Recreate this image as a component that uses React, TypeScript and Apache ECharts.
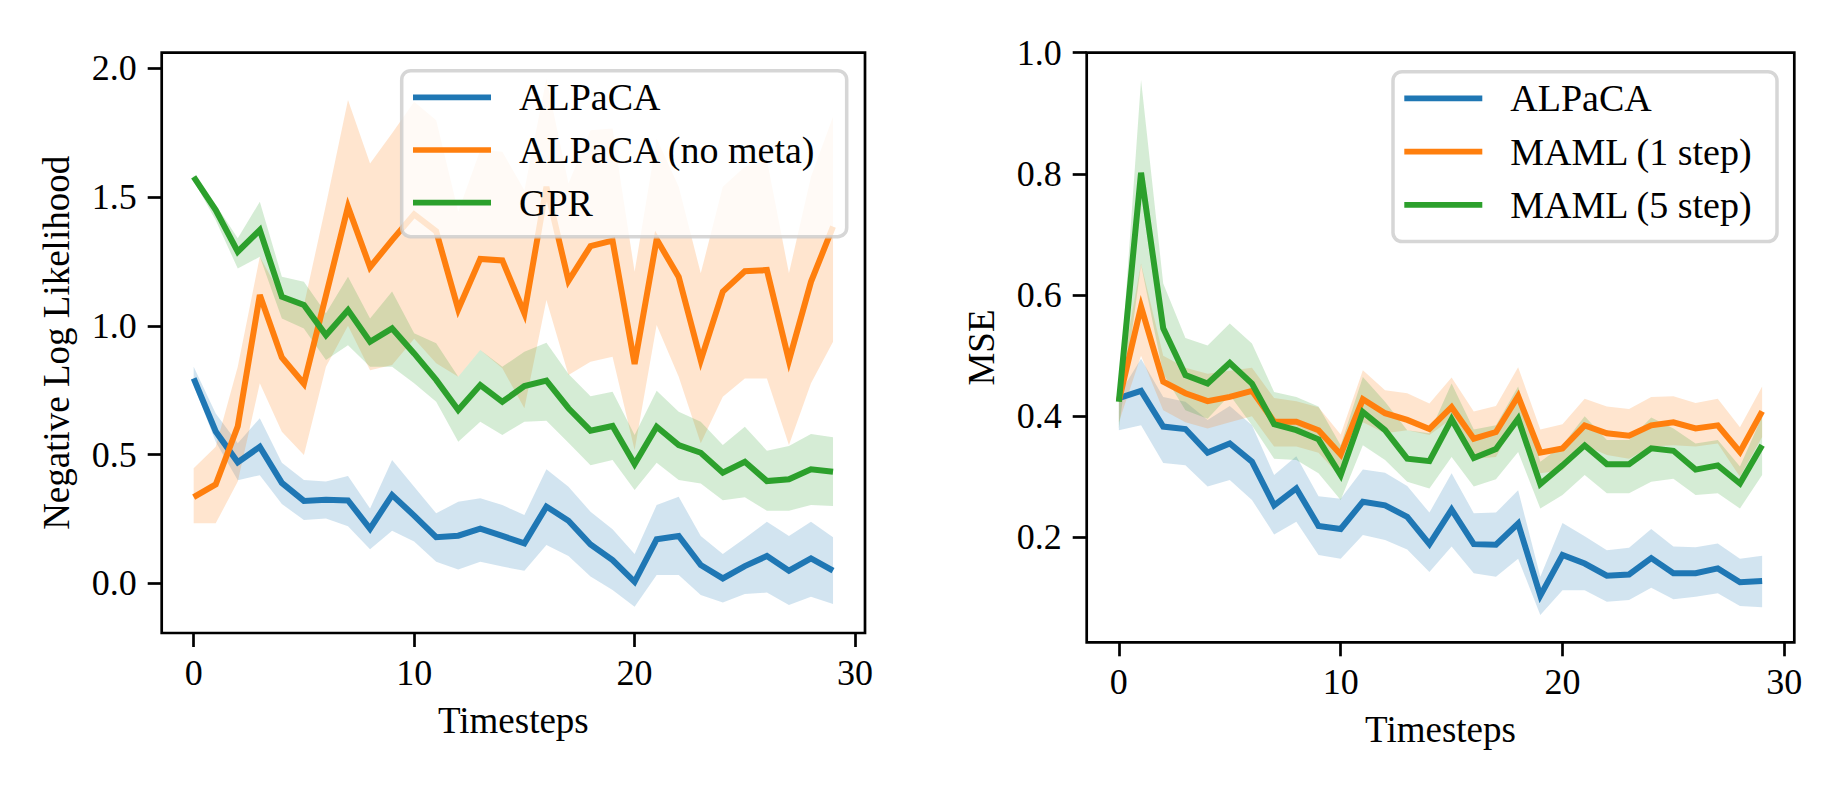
import React, { useEffect, useRef } from "react";
import * as echarts from "echarts";

// ---------- data ----------
const timesteps = [0, 1, 2, 3, 4, 5, 6, 7, 8, 9, 10, 11, 12, 13, 14, 15, 16, 17, 18, 19, 20, 21, 22, 23, 24, 25, 26, 27, 28, 29];

// Left panel: Negative Log Likelihood
const nllAlpaca = [0.796, 0.59, 0.47, 0.53, 0.39, 0.32, 0.325, 0.322, 0.212, 0.343, 0.263, 0.179, 0.185, 0.212, 0.184, 0.155, 0.298, 0.243, 0.151, 0.09, 0.006, 0.171, 0.184, 0.071, 0.019, 0.067, 0.106, 0.049, 0.097, 0.049];
const nllAlpacaLo = [0.77, 0.55, 0.4, 0.42, 0.308, 0.246, 0.252, 0.222, 0.132, 0.204, 0.162, 0.084, 0.054, 0.084, 0.065, 0.049, 0.149, 0.106, 0.026, -0.026, -0.091, 0.032, 0.032, -0.045, -0.075, -0.042, -0.036, -0.084, -0.052, -0.08];
const nllAlpacaHi = [0.841, 0.66, 0.544, 0.641, 0.468, 0.401, 0.395, 0.417, 0.291, 0.479, 0.375, 0.272, 0.317, 0.33, 0.304, 0.265, 0.443, 0.375, 0.278, 0.21, 0.114, 0.304, 0.336, 0.184, 0.114, 0.175, 0.239, 0.184, 0.239, 0.179];

const nllNoMeta = [0.335, 0.384, 0.61, 1.12, 0.877, 0.775, 1.118, 1.463, 1.228, 1.333, 1.433, 1.367, 1.064, 1.26, 1.254, 1.049, 1.54, 1.175, 1.31, 1.331, 0.852, 1.336, 1.19, 0.866, 1.133, 1.212, 1.217, 0.865, 1.171, 1.385];
const nllNoMetaLo = [0.233, 0.233, 0.395, 0.777, 0.589, 0.498, 0.841, 1.0, 0.828, 0.848, 0.95, 0.855, 0.802, 0.906, 0.835, 0.68, 1.1, 0.809, 0.861, 0.88, 0.518, 1.003, 0.802, 0.544, 0.725, 0.796, 0.796, 0.537, 0.777, 0.938];
const nllNoMetaHi = [0.447, 0.53, 0.841, 1.268, 1.113, 1.08, 1.47, 1.877, 1.631, 1.748, 1.87, 1.799, 1.443, 1.683, 1.676, 1.527, 1.96, 1.553, 1.76, 1.767, 1.21, 1.728, 1.54, 1.204, 1.54, 1.618, 1.644, 1.204, 1.579, 1.812];

const nllGpr = [1.579, 1.45, 1.288, 1.372, 1.113, 1.081, 0.964, 1.061, 0.938, 0.99, 0.893, 0.79, 0.673, 0.77, 0.705, 0.766, 0.787, 0.68, 0.593, 0.611, 0.463, 0.608, 0.537, 0.507, 0.43, 0.472, 0.397, 0.404, 0.443, 0.433];
const nllGprLo = [1.565, 1.41, 1.223, 1.268, 1.029, 0.99, 0.867, 0.925, 0.841, 0.841, 0.777, 0.705, 0.55, 0.628, 0.576, 0.628, 0.631, 0.546, 0.459, 0.479, 0.362, 0.468, 0.401, 0.388, 0.323, 0.334, 0.282, 0.282, 0.304, 0.3];
const nllGprHi = [1.585, 1.47, 1.34, 1.482, 1.191, 1.171, 1.049, 1.191, 1.029, 1.133, 0.971, 0.932, 0.802, 0.906, 0.841, 0.899, 0.934, 0.813, 0.727, 0.744, 0.576, 0.748, 0.666, 0.628, 0.537, 0.608, 0.515, 0.533, 0.58, 0.567];

// Right panel: MSE
const mseAlpaca = [0.43, 0.442, 0.383, 0.379, 0.34, 0.355, 0.325, 0.253, 0.281, 0.219, 0.214, 0.259, 0.253, 0.234, 0.189, 0.246, 0.189, 0.188, 0.223, 0.104, 0.171, 0.157, 0.137, 0.139, 0.166, 0.141, 0.141, 0.149, 0.126, 0.128];
const mseAlpacaLo = [0.377, 0.385, 0.323, 0.319, 0.284, 0.295, 0.262, 0.205, 0.226, 0.171, 0.165, 0.204, 0.196, 0.18, 0.143, 0.185, 0.141, 0.135, 0.165, 0.072, 0.113, 0.113, 0.094, 0.097, 0.117, 0.098, 0.102, 0.108, 0.087, 0.085];
const mseAlpacaHi = [0.435, 0.495, 0.432, 0.424, 0.394, 0.417, 0.385, 0.303, 0.334, 0.268, 0.264, 0.312, 0.307, 0.285, 0.241, 0.306, 0.24, 0.241, 0.278, 0.135, 0.224, 0.202, 0.179, 0.183, 0.214, 0.185, 0.184, 0.19, 0.165, 0.17];

const mseMaml1 = [0.425, 0.581, 0.457, 0.438, 0.425, 0.432, 0.442, 0.391, 0.391, 0.377, 0.337, 0.428, 0.405, 0.394, 0.379, 0.415, 0.363, 0.374, 0.433, 0.34, 0.347, 0.385, 0.372, 0.368, 0.385, 0.39, 0.38, 0.385, 0.341, 0.408];
const mseMaml1Lo = [0.39, 0.5, 0.41, 0.39, 0.38, 0.39, 0.4, 0.35, 0.35, 0.34, 0.3, 0.39, 0.372, 0.377, 0.369, 0.396, 0.33, 0.333, 0.399, 0.306, 0.311, 0.352, 0.336, 0.33, 0.35, 0.352, 0.35, 0.355, 0.3, 0.366];
const mseMaml1Hi = [0.45, 0.652, 0.5, 0.48, 0.47, 0.475, 0.48, 0.43, 0.425, 0.415, 0.37, 0.476, 0.443, 0.438, 0.421, 0.464, 0.408, 0.417, 0.481, 0.378, 0.387, 0.429, 0.416, 0.412, 0.432, 0.433, 0.422, 0.429, 0.382, 0.449];

const mseMaml5 = [0.424, 0.802, 0.545, 0.468, 0.454, 0.488, 0.454, 0.387, 0.377, 0.362, 0.303, 0.407, 0.377, 0.33, 0.326, 0.395, 0.331, 0.346, 0.396, 0.288, 0.319, 0.352, 0.321, 0.321, 0.347, 0.343, 0.312, 0.319, 0.289, 0.352];
const mseMaml5Lo = [0.38, 0.65, 0.47, 0.41, 0.396, 0.435, 0.385, 0.33, 0.328, 0.306, 0.262, 0.352, 0.328, 0.292, 0.281, 0.333, 0.284, 0.296, 0.341, 0.248, 0.27, 0.303, 0.273, 0.273, 0.292, 0.297, 0.27, 0.273, 0.248, 0.303];
const mseMaml5Hi = [0.435, 0.955, 0.619, 0.529, 0.517, 0.553, 0.52, 0.44, 0.432, 0.416, 0.352, 0.465, 0.424, 0.377, 0.372, 0.454, 0.378, 0.385, 0.449, 0.325, 0.352, 0.4, 0.361, 0.361, 0.398, 0.38, 0.355, 0.361, 0.317, 0.4];

const xTicks = [0, 10, 20, 30];
const nllTicks = [0, 0.5, 1.0, 1.5, 2.0];
const mseTicks = [0.2, 0.4, 0.6, 0.8, 1.0];

const leftNames = ["ALPaCA", "ALPaCA (no meta)", "GPR"];
const rightNames = ["ALPaCA", "MAML (1 step)", "MAML (5 step)"];

const C_BLUE = "#1f77b4";
const C_ORANGE = "#ff7f0e";
const C_GREEN = "#2ca02c";

const FONT = "'Liberation Serif', 'DejaVu Serif', serif";

function hexA(hex: string, a: number) {
  const r = parseInt(hex.slice(1, 3), 16);
  const g = parseInt(hex.slice(3, 5), 16);
  const b = parseInt(hex.slice(5, 7), 16);
  return `rgba(${r},${g},${b},${a})`;
}

function band(name: string, idx: number, lo: number[], hi: number[], color: string) {
  return {
    type: "custom",
    name,
    xAxisIndex: idx,
    yAxisIndex: idx,
    silent: true,
    z: 1,
    data: timesteps.map((t, i) => [t, lo[i], hi[i]]),
    encode: { x: 0, y: [1, 2] },
    renderItem: (params: any, api: any) => {
      if (params.dataIndex !== 0) return null;
      const pts: number[][] = [];
      for (let k = 0; k < timesteps.length; k++) pts.push(api.coord([timesteps[k], hi[k]]));
      for (let k = timesteps.length - 1; k >= 0; k--) pts.push(api.coord([timesteps[k], lo[k]]));
      return {
        type: "polygon",
        shape: { points: pts },
        style: { fill: hexA(color, 0.2), stroke: null },
        silent: true,
      };
    },
  };
}

function line(name: string, idx: number, vals: number[], color: string) {
  return {
    type: "line",
    name,
    xAxisIndex: idx,
    yAxisIndex: idx,
    data: timesteps.map((t, i) => [t, vals[i]]),
    showSymbol: false,
    symbol: "none",
    z: 3,
    itemStyle: { color },
    lineStyle: { color, width: 6, join: "miter" },
    silent: true,
  };
}

const tickStyle = { color: "#000", width: 2.7 };
const labelStyle = { fontFamily: FONT, fontSize: 36, color: "#000" };
const nameStyle = { fontFamily: FONT, fontSize: 37, color: "#000" };

function xAxis(idx: number) {
  return {
    gridIndex: idx,
    type: "value",
    position: "bottom",
    min: -1.45,
    max: 30.45,
    axisLine: { show: false, onZero: false },
    splitLine: { show: false },
    axisTick: { show: true, length: 14, lineStyle: tickStyle, customValues: xTicks },
    axisLabel: { ...labelStyle, margin: 22, customValues: xTicks, formatter: (v: number) => String(v) },
    name: "Timesteps",
    nameLocation: "middle",
    nameGap: 69,
    nameTextStyle: nameStyle,
  };
}

function yAxis(idx: number, min: number, max: number, ticks: number[], name: string) {
  return {
    gridIndex: idx,
    type: "value",
    position: "left",
    min,
    max,
    axisLine: { show: false, onZero: false },
    splitLine: { show: false },
    axisTick: { show: true, length: 14, lineStyle: tickStyle, customValues: ticks },
    axisLabel: { ...labelStyle, margin: 25, customValues: ticks, formatter: (v: number) => v.toFixed(1) },
    name,
    nameLocation: "middle",
    nameGap: 87,
    nameTextStyle: nameStyle,
  };
}

function legend(names: string[], left: number, top: number, textW: number, gap: number, padBottom: number, padRight: number) {
  return {
    data: names,
    orient: "vertical",
    left,
    top,
    selectedMode: false,
    itemWidth: 101,
    itemHeight: 5.7,
    itemGap: gap,
    icon: "path://M0,0h78v5.7h-78z M101,0v5.7",
    textStyle: { fontFamily: FONT, fontSize: 38, color: "#000", lineHeight: 40, width: textW },
    padding: [6.6, padRight, padBottom, 11.3],
    backgroundColor: "rgba(255,255,255,0.8)",
    borderColor: "rgba(204,204,204,0.8)",
    borderWidth: 3.5,
    borderRadius: 9,
    z: 10,
  };
}

export default function App() {
  const ref = useRef<HTMLDivElement>(null);
  useEffect(() => {
    if (!ref.current) return;
    const chart = echarts.init(ref.current, null, { renderer: "svg", width: 1846, height: 787 });
    chart.setOption({
      animation: false,
      backgroundColor: "#ffffff",
      grid: [
        { left: 161.7, top: 52.7, width: 703.3, height: 580.3, show: true, borderColor: "#000", borderWidth: 2.7, backgroundColor: "transparent", z: 5 },
        { left: 1086.7, top: 52.7, width: 707.6, height: 589.6, show: true, borderColor: "#000", borderWidth: 2.7, backgroundColor: "transparent", z: 5 },
      ],
      xAxis: [xAxis(0), xAxis(1)],
      yAxis: [
        yAxis(0, -0.193, 2.061, nllTicks, "Negative Log Likelihood"),
        yAxis(1, 0.027, 1.0, mseTicks, "MSE"),
      ],
      legend: [
        legend(leftNames, 401.7, 70.7, 311, 12.7, 14, 16.7),
        legend(rightNames, 1393, 71.7, 248, 13.3, 16.7, 18.7),
      ],
      series: [
        band("ALPaCA band", 0, nllAlpacaLo, nllAlpacaHi, C_BLUE),
        band("ALPaCA (no meta) band", 0, nllNoMetaLo, nllNoMetaHi, C_ORANGE),
        band("GPR band", 0, nllGprLo, nllGprHi, C_GREEN),
        line("ALPaCA", 0, nllAlpaca, C_BLUE),
        line("ALPaCA (no meta)", 0, nllNoMeta, C_ORANGE),
        line("GPR", 0, nllGpr, C_GREEN),
        band("ALPaCA mse band", 1, mseAlpacaLo, mseAlpacaHi, C_BLUE),
        band("MAML (1 step) band", 1, mseMaml1Lo, mseMaml1Hi, C_ORANGE),
        band("MAML (5 step) band", 1, mseMaml5Lo, mseMaml5Hi, C_GREEN),
        line("ALPaCA", 1, mseAlpaca, C_BLUE),
        line("MAML (1 step)", 1, mseMaml1, C_ORANGE),
        line("MAML (5 step)", 1, mseMaml5, C_GREEN),
      ],
    });
    return () => chart.dispose();
  }, []);
  return <div ref={ref} style={{ position: "absolute", left: 0, top: 0, width: 1846, height: 787 }} />;
}
